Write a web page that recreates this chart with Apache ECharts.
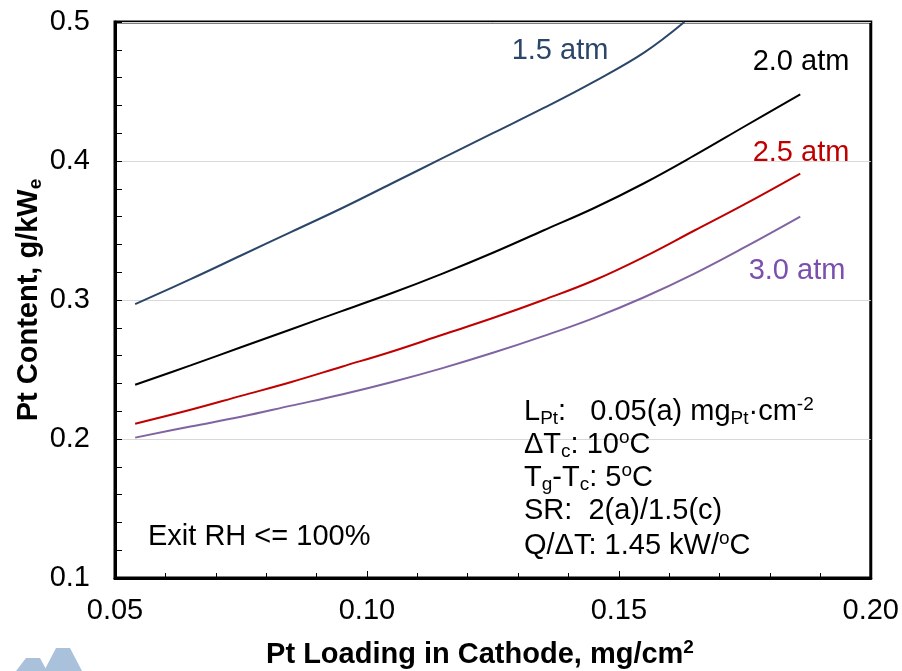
<!DOCTYPE html>
<html>
<head>
<meta charset="utf-8">
<script src="https://cdn.jsdelivr.net/npm/echarts@6/dist/echarts.min.js"></script>
<style>html,body{margin:0;padding:0;background:#fff}#c{width:902px;height:671px}</style>
</head>
<body>
<div id="c"></div>
<script>
// Pt loading (mg/cm2) for each series
const x15 = [0.054, 0.065, 0.075, 0.085, 0.095, 0.105, 0.115, 0.125, 0.135, 0.145, 0.155, 0.163];
const y15 = [0.297, 0.315, 0.332, 0.349, 0.366, 0.384, 0.402, 0.420, 0.438, 0.457, 0.478, 0.500];
const xCommon = [0.054, 0.065, 0.075, 0.085, 0.095, 0.105, 0.115, 0.125, 0.135, 0.145, 0.155, 0.165, 0.175, 0.186];
const y20 = [0.239, 0.253, 0.266, 0.279, 0.292, 0.305, 0.319, 0.334, 0.350, 0.366, 0.384, 0.404, 0.425, 0.448];
const y25 = [0.211, 0.221, 0.231, 0.241, 0.252, 0.263, 0.275, 0.287, 0.300, 0.314, 0.331, 0.350, 0.369, 0.391];
const y30 = [0.201, 0.209, 0.216, 0.224, 0.232, 0.241, 0.251, 0.262, 0.274, 0.287, 0.302, 0.319, 0.338, 0.360];
const seriesNames = ['1.5 atm', '2.0 atm', '2.5 atm', '3.0 atm'];
const xTickLabels = ['0.05', '0.10', '0.15', '0.20'];
const yTickLabels = ['0.1', '0.2', '0.3', '0.4', '0.5'];

const FONT = "'Liberation Sans', Arial, sans-serif";
const colors = ['#2b4668', '#000000', '#c00000', '#8064a2'];
const labelColors = ['#2b4668', '#000000', '#c00000', '#7a4fae'];

function pair(xs, ys) { return xs.map((x, i) => [x, ys[i]]); }

const chart = echarts.init(document.getElementById('c'), null, { renderer: 'canvas' });

const fs = 29;
function richBase(size, weight) {
  return {
    a: { fontSize: size, fontFamily: FONT, fontWeight: weight, lineHeight: size + 4, fill: '#000' },
    s: { fontSize: Math.round(size * 0.65), fontFamily: FONT, fontWeight: weight, lineHeight: 13, verticalAlign: 'bottom', fill: '#000' },
    p: { fontSize: Math.round(size * 0.65), fontFamily: FONT, fontWeight: weight, lineHeight: 13, verticalAlign: 'top', fill: '#000' }
  };
}
function txt(x, y, text, opts) {
  opts = opts || {};
  return {
    type: 'text', x: x, y: y, rotation: opts.rotation || 0, z: 100,
    style: {
      text: text,
      rich: richBase(opts.size || fs, opts.weight || 'normal'),
      fill: opts.color || '#000',
      font: (opts.weight || 'normal') + ' ' + (opts.size || fs) + 'px ' + FONT,
      align: opts.align || 'left',
      verticalAlign: 'middle'
    }
  };
}
function plain(x, y, text, color, align) {
  return {
    type: 'text', x: x, y: y, z: 100,
    style: { text: text, fill: color, font: 'normal ' + fs + 'px ' + FONT, align: align || 'center', verticalAlign: 'middle' }
  };
}

const option = {
  animation: false,
  backgroundColor: '#fff',
  grid: { left: 115, right: 31, top: 22, bottom: 93, show: true, borderColor: '#000', borderWidth: 3, backgroundColor: 'transparent' },
  xAxis: {
    type: 'value', min: 0.05, max: 0.20, interval: 0.05,
    axisLine: { show: true, lineStyle: { color: '#000', width: 3 } },
    axisTick: { show: true, inside: true, length: 7, lineStyle: { color: '#000', width: 1 } },
    minorTick: { show: true, splitNumber: 5, length: 5, lineStyle: { color: '#000', width: 1 } },
    splitLine: { show: false },
    axisLabel: {
      margin: 18, color: '#000', fontSize: fs, fontFamily: FONT,
      formatter: function (v) { const i = Math.round((v - 0.05) / 0.05); return xTickLabels[i] !== undefined ? xTickLabels[i] : ''; }
    }
  },
  yAxis: {
    type: 'value', min: 0.1, max: 0.5, interval: 0.1,
    axisLine: { show: true, lineStyle: { color: '#000', width: 3 } },
    axisTick: { show: true, inside: true, length: 7, lineStyle: { color: '#000', width: 1 } },
    minorTick: { show: true, splitNumber: 5, length: 7, lineStyle: { color: '#000', width: 1 } },
    splitLine: { show: true, lineStyle: { color: '#d9d9d9', width: 1 } },
    axisLabel: {
      margin: 25, color: '#000', fontSize: fs, fontFamily: FONT,
      formatter: function (v) { const i = Math.round((v - 0.1) / 0.1); return yTickLabels[i] !== undefined ? yTickLabels[i] : ''; }
    }
  },
  series: [
    { name: seriesNames[0], type: 'line', data: pair(x15, y15), smooth: 0.4, showSymbol: false, lineStyle: { color: colors[0], width: 2 }, clip: true },
    { name: seriesNames[1], type: 'line', data: pair(xCommon, y20), smooth: 0.4, showSymbol: false, lineStyle: { color: colors[1], width: 2 } },
    { name: seriesNames[2], type: 'line', data: pair(xCommon, y25), smooth: 0.4, showSymbol: false, lineStyle: { color: colors[2], width: 2 } },
    { name: seriesNames[3], type: 'line', data: pair(xCommon, y30), smooth: 0.4, showSymbol: false, lineStyle: { color: colors[3], width: 2 } }
  ],
  graphic: [
    plain(560, 51, seriesNames[0], labelColors[0]),
    plain(801, 62, seriesNames[1], labelColors[1]),
    plain(801, 153, seriesNames[2], labelColors[2]),
    plain(797, 271, seriesNames[3], labelColors[3]),
    txt(524, 412, '{a|L}{s|Pt}{a|:   0.05(a) mg}{s|Pt}{a|·cm}{p|-2}'),
    txt(524, 445, '{a|ΔT}{s|c}{a|: 10}{p|o}{a|C}'),
    txt(524, 478, '{a|T}{s|g}{a|-T}{s|c}{a|: 5}{p|o}{a|C}'),
    txt(524, 511, '{a|SR:  2(a)/1.5(c)}'),
    txt(524, 546, '{a|Q/ΔT: 1.45 kW/}{p|o}{a|C}'),
    plain(148, 537, 'Exit RH <= 100%', '#000', 'left'),
    txt(480, 655, '{a|Pt Loading in Cathode, mg/cm}{p|2}', { weight: 'bold', size: 29, align: 'center' }),
    txt(29, 300, '{a|Pt Content, g/kW}{s|e}', { weight: 'bold', size: 29, align: 'center', rotation: Math.PI / 2 }),
    { type: 'polygon', z: 1, shape: { points: [[16, 671], [26, 658], [40, 658], [47, 671]] }, style: { fill: '#a9c1da' } },
    { type: 'polygon', z: 1, shape: { points: [[44, 671], [56, 648], [70, 648], [82, 671]] }, style: { fill: '#a9c1da' } }
  ]
};
chart.setOption(option);
</script>
</body>
</html>
